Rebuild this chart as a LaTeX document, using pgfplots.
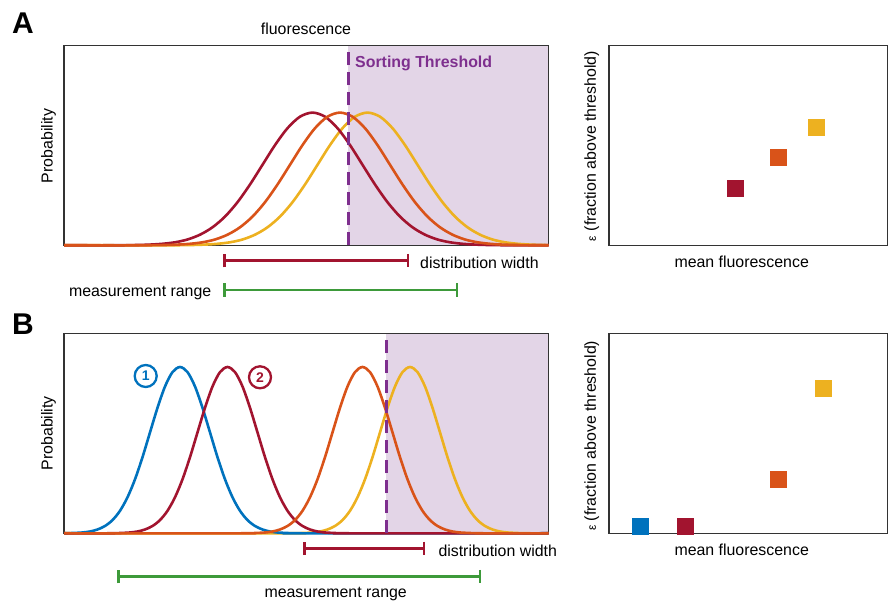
\documentclass[border=0pt]{standalone}
\usepackage{fontspec}
\setmainfont{Liberation Sans}
\usepackage{pgfplots}
\pgfplotsset{compat=1.18}
\usetikzlibrary{arrows.meta}
\definecolor{cdred}{HTML}{A2142F}
\definecolor{corange}{HTML}{D95319}
\definecolor{cyellow}{HTML}{EDB120}
\definecolor{cblue}{HTML}{0072BD}
\definecolor{cgreen}{HTML}{3D9A3A}
\definecolor{cpurple}{HTML}{7E2F8E}
\definecolor{cshade}{HTML}{E3D5E7}
\definecolor{cframe}{HTML}{333333}
\pgfplotsset{
  panel/.style={scale only axis, ticks=none, clip=false, anchor=south west,
    axis line style={draw=cframe, line width=1.3pt}, ymin=0},
  curve/.style={line width=2.6pt, smooth, no marks},
  wbar/.style={line width=2.5pt, no marks, {Bar[width=13.5pt]}-{Bar[width=13.5pt]}},
  sq/.style={only marks, mark=square*, mark size=8pt, mark options={draw=none}},
}
\begin{document}
\begin{tikzpicture}[font=\fontsize{15.9}{19}\selectfont]
\useasboundingbox (0pt,0pt) rectangle (888pt,602pt);

% ---------- Panel A left ----------
\begin{axis}[panel, at={(64pt,356.7pt)}, width=484.7pt, height=199.8pt,
  xmin=64, xmax=548.7, ymax=199.8]
\addplot[fill=cshade, draw=none] coordinates {(348,0.65) (548.05,0.65) (548.05,199.15) (348,199.15)} -- cycle;
\addplot[curve, cyellow] coordinates {(64,0)(167.5,0.0)(180,0.1)(192.5,0.3)(205,0.7)(217.5,1.5)(230,3.0)(242.5,5.8)(255,10.6)(267.5,18.0)(280,28.7)(292.5,43.1)(305,60.8)(317.5,80.5)(330,100.2)(342.5,117.1)(355,128.6)(367.5,132.7)(380,128.6)(392.5,117.1)(405,100.2)(417.5,80.5)(430,60.8)(442.5,43.1)(455,28.7)(467.5,18.0)(480,10.6)(492.5,5.8)(505,3.0)(517.5,1.5)(530,0.7)(542.5,0.3)(548.7,0.2)};
\addplot[curve, cdred] coordinates {(64,0)(112.5,0.0)(125,0.1)(137.5,0.3)(150,0.7)(162.5,1.5)(175,3.0)(187.5,5.8)(200,10.6)(212.5,18.0)(225,28.7)(237.5,43.1)(250,60.8)(262.5,80.5)(275,100.2)(287.5,117.1)(300,128.6)(312.5,132.7)(325,128.6)(337.5,117.1)(350,100.2)(362.5,80.5)(375,60.8)(387.5,43.1)(400,28.7)(412.5,18.0)(425,10.6)(437.5,5.8)(450,3.0)(462.5,1.5)(475,0.7)(487.5,0.3)(500,0.1)(512.5,0.0)(548.7,0)};
\addplot[curve, corange] coordinates {(64,0)(140,0.0)(152.5,0.1)(165,0.3)(177.5,0.7)(190,1.5)(202.5,3.0)(215,5.8)(227.5,10.6)(240,18.0)(252.5,28.7)(265,43.1)(277.5,60.8)(290,80.5)(302.5,100.2)(315,117.1)(327.5,128.6)(340,132.7)(352.5,128.6)(365,117.1)(377.5,100.2)(390,80.5)(402.5,60.8)(415,43.1)(427.5,28.7)(440,18.0)(452.5,10.6)(465,5.8)(477.5,3.0)(490,1.5)(502.5,0.7)(515,0.3)(527.5,0.1)(540,0.0)(548.7,0)};
\addplot[cpurple, line width=3pt, dash pattern=on 13pt off 7pt, no marks] coordinates {(348,0) (348,199.8)};
\addplot[wbar, cdred] coordinates {(223.3,-15.4) (409,-15.4)};
\addplot[wbar, cgreen] coordinates {(223.3,-44.7) (458.3,-44.7)};
\end{axis}

% ---------- Panel A right ----------
\begin{axis}[panel, at={(609pt,356.7pt)}, width=278.3pt, height=199.8pt,
  xmin=609, xmax=887.3, ymax=199.8, axis on top]
\addplot[sq, cdred] coordinates {(735,57.3)};
\addplot[sq, corange] coordinates {(778,88.3)};
\addplot[sq, cyellow] coordinates {(816,118.3)};
\end{axis}

% ---------- Panel B left ----------
\begin{axis}[panel, at={(64pt,68.7pt)}, width=484.7pt, height=200pt,
  xmin=64, xmax=548.7, ymax=200]
\addplot[fill=cshade, draw=none] coordinates {(386,0.65) (548.05,0.65) (548.05,199.35) (386,199.35)} -- cycle;
\addplot[curve, cyellow] coordinates {(64,0)(290,0.0)(297.5,0.1)(305,0.4)(312.5,0.8)(320,1.8)(327.5,3.8)(335,7.3)(342.5,13.2)(350,22.5)(357.5,36.0)(365,54.0)(372.5,76.1)(380,100.9)(387.5,125.5)(395,146.8)(402.5,161.2)(410,166.3)(417.5,161.2)(425,146.8)(432.5,125.5)(440,100.9)(447.5,76.1)(455,54.0)(462.5,36.0)(470,22.5)(477.5,13.2)(485,7.3)(492.5,3.8)(500,1.8)(507.5,0.8)(515,0.4)(522.5,0.1)(530,0.0)(548.7,0)};
\addplot[curve, cblue] coordinates {(64,0)(67.5,0.1)(75,0.4)(82.5,0.8)(90,1.8)(97.5,3.8)(105,7.3)(112.5,13.2)(120,22.5)(127.5,36.0)(135,54.0)(142.5,76.1)(150,100.9)(157.5,125.5)(165,146.8)(172.5,161.2)(180,166.3)(187.5,161.2)(195,146.8)(202.5,125.5)(210,100.9)(217.5,76.1)(225,54.0)(232.5,36.0)(240,22.5)(247.5,13.2)(255,7.3)(262.5,3.8)(270,1.8)(277.5,0.8)(285,0.4)(292.5,0.1)(300,0.0)(548.7,0)};
\addplot[curve, cdred] coordinates {(64,0)(107.5,0.0)(115,0.1)(122.5,0.4)(130,0.8)(137.5,1.8)(145,3.8)(152.5,7.3)(160,13.2)(167.5,22.5)(175,36.0)(182.5,54.0)(190,76.1)(197.5,100.9)(205,125.5)(212.5,146.8)(220,161.2)(227.5,166.3)(235,161.2)(242.5,146.8)(250,125.5)(257.5,100.9)(265,76.1)(272.5,54.0)(280,36.0)(287.5,22.5)(295,13.2)(302.5,7.3)(310,3.8)(317.5,1.8)(325,0.8)(332.5,0.4)(340,0.1)(347.5,0.0)(548.7,0)};
\addplot[curve, corange] coordinates {(64,0)(242.5,0.0)(250,0.1)(257.5,0.4)(265,0.8)(272.5,1.8)(280,3.8)(287.5,7.3)(295,13.2)(302.5,22.5)(310,36.0)(317.5,54.0)(325,76.1)(332.5,100.9)(340,125.5)(347.5,146.8)(355,161.2)(362.5,166.3)(370,161.2)(377.5,146.8)(385,125.5)(392.5,100.9)(400,76.1)(407.5,54.0)(415,36.0)(422.5,22.5)(430,13.2)(437.5,7.3)(445,3.8)(452.5,1.8)(460,0.8)(467.5,0.4)(475,0.1)(482.5,0.0)(548.7,0)};
\addplot[cpurple, line width=3pt, dash pattern=on 13pt off 7pt, no marks] coordinates {(386,0) (386,200)};
\addplot[wbar, cdred] coordinates {(303.3,-15) (425,-15)};
\addplot[wbar, cgreen] coordinates {(117.3,-43.4) (481,-43.4)};
\end{axis}

% ---------- Panel B right ----------
\begin{axis}[panel, at={(609pt,68.7pt)}, width=278.3pt, height=200pt,
  xmin=609, xmax=887.3, ymax=200, axis on top]
\addplot[sq, cblue] coordinates {(640,7.3)};
\addplot[sq, cdred] coordinates {(685,7.3)};
\addplot[sq, corange] coordinates {(778,54.3)};
\addplot[sq, cyellow] coordinates {(823,145.3)};
\end{axis}

% ---------- Text annotations ----------
\node[anchor=base, inner sep=0pt, font=\fontsize{30}{30}\selectfont\bfseries] at (23pt,568.7pt) {A};
\node[anchor=base, inner sep=0pt, font=\fontsize{30}{30}\selectfont\bfseries] at (23pt,267pt) {B};
\node[anchor=base, inner sep=0pt] at (306pt,567pt) {fluorescence};
\node[anchor=base west, inner sep=0pt, text=cpurple, font=\fontsize{15.9}{19}\selectfont\bfseries] at (355pt,534.3pt) {Sorting Threshold};
\node[anchor=center, inner sep=0pt, rotate=90] at (48.5pt,456pt) {Probability};
\node[anchor=center, inner sep=0pt, rotate=90] at (48.5pt,168.7pt) {Probability};
\node[anchor=base west, inner sep=0pt] at (420pt,333.7pt) {distribution width};
\node[anchor=base east, inner sep=0pt] at (211.5pt,305.3pt) {measurement range};
\node[anchor=base west, inner sep=0pt] at (438.3pt,45.3pt) {distribution width};
\node[anchor=base, inner sep=0pt] at (335.7pt,4.7pt) {measurement range};
\node[anchor=center, inner sep=0pt, rotate=90] at (591.7pt,456pt) {{\fontsize{12}{12}\selectfont ε} (fraction above threshold)};
\node[anchor=center, inner sep=0pt, rotate=90] at (591.7pt,166.2pt) {{\fontsize{12}{12}\selectfont ε} (fraction above threshold)};
\node[anchor=base, inner sep=0pt] at (741.7pt,334.3pt) {mean fluorescence};
\node[anchor=base, inner sep=0pt] at (741.7pt,46pt) {mean fluorescence};
\node[circle, draw=cblue, line width=2.3pt, minimum size=22pt, inner sep=0pt, text=cblue, font=\fontsize{14}{14}\selectfont\bfseries] at (145.7pt,226pt) {1};
\node[circle, draw=cdred, line width=2.3pt, minimum size=22pt, inner sep=0pt, text=cdred, font=\fontsize{14}{14}\selectfont\bfseries] at (260pt,224.7pt) {2};
\end{tikzpicture}
\end{document}
